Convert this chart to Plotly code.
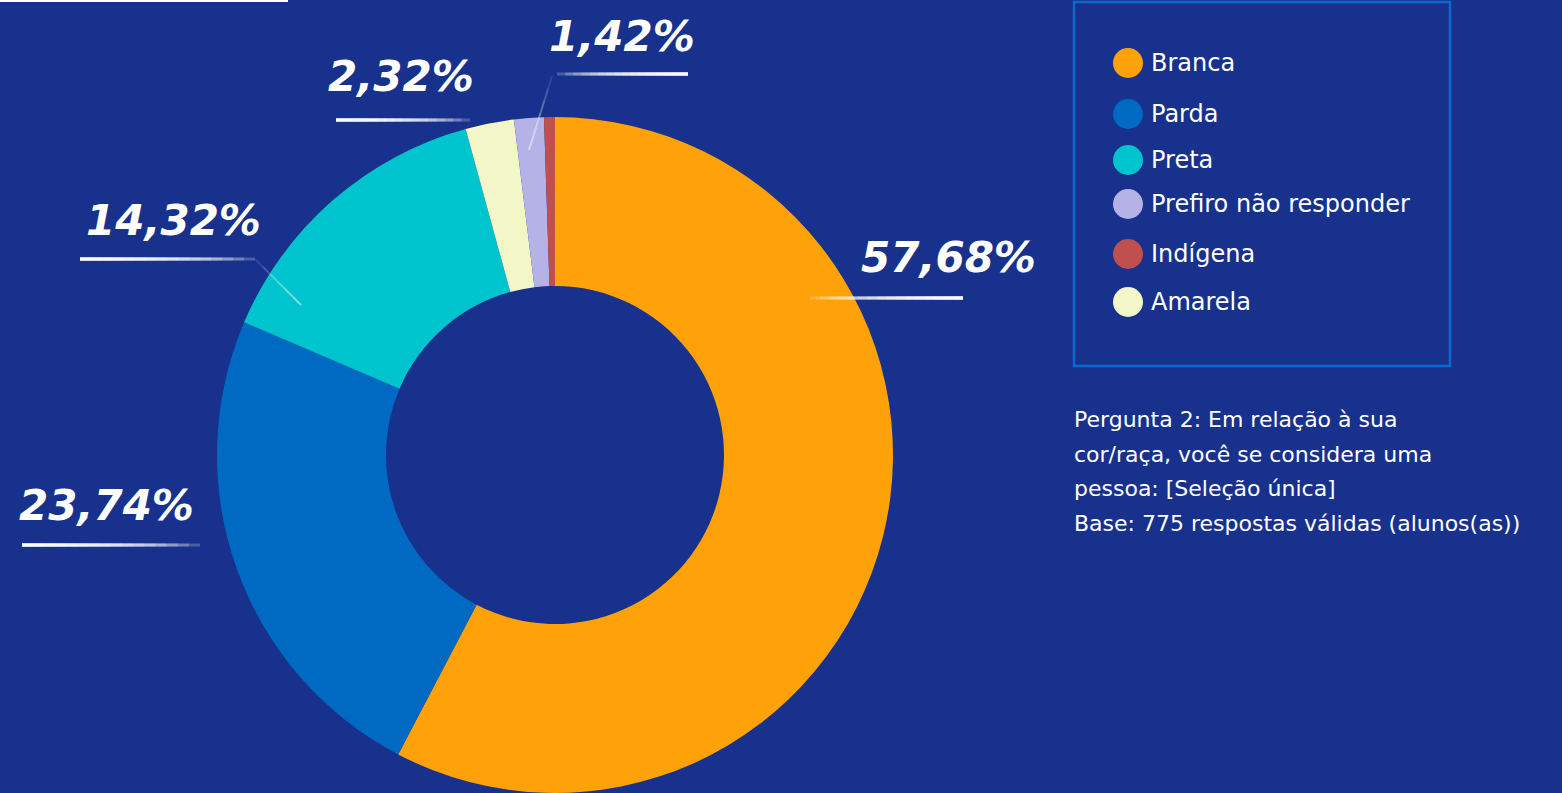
import plotly.graph_objects as go

# data (slice order, clockwise from 12 o'clock)
categories = ["Branca", "Parda", "Preta", "Amarela", "Prefiro não responder", "Indígena"]
values = [57.68, 23.74, 14.32, 2.32, 1.42, 0.52]
colors = ["#FFA20A", "#0069C2", "#00C4CD", "#F3F6C7", "#B4B2E6", "#C0504E"]

legend_order = ["Branca", "Parda", "Preta", "Prefiro não responder", "Indígena", "Amarela"]
labelled = ["Branca", "Parda", "Preta", "Amarela", "Prefiro não responder"]

note_lines = [
    "Pergunta 2: Em relação à sua",
    "cor/raça, você se considera uma",
    "pessoa: [Seleção única]",
    "Base: 775 respostas válidas (alunos(as))",
]

W, H = 1562, 793
BG = "#17318C"
FONT = "DejaVu Sans"


def px(x, y):
    return x / W, 1 - y / H


fig = go.Figure()
fig.add_trace(go.Pie(
    labels=categories, values=values, hole=0.5, sort=False,
    direction="clockwise", rotation=0,
    marker=dict(colors=colors, line=dict(width=0)),
    textinfo="none", hoverinfo="label+percent", showlegend=False,
    domain=dict(x=[217 / W, 893 / W], y=[0, 676 / H]),
))

shapes = []
annotations = []


def fade_line(x0, y0, x1, y1, n=16, alpha=0.22, width=3):
    # stacked strokes all starting at the solid end (x0,y0): gradient towards (x1,y1)
    for k in range(n):
        t = 1 - k / n
        ax, ay = px(x0, y0)
        bx, by = px(x0 + (x1 - x0) * t, y0 + (y1 - y0) * t)
        shapes.append(dict(type="line", xref="paper", yref="paper",
                           x0=ax, y0=ay, x1=bx, y1=by,
                           line=dict(color="white", width=width), opacity=alpha))


# label placement (pixels): text centre, underline solid end, faded end, optional diagonal
label_pos = {
    "Branca": dict(text=(948, 257), line=((963, 298), (810, 298)), diag=None),
    "Parda": dict(text=(106, 505), line=((22, 545), (200, 545)), diag=None),
    "Preta": dict(text=(173, 220), line=((80, 259), (255, 259)), diag=((301, 305), (255, 259))),
    "Amarela": dict(text=(401, 76), line=((336, 120), (470, 120)), diag=None),
    "Prefiro não responder": dict(text=(622, 37), line=((688, 74), (557, 74)), diag=((529, 150), (552, 76))),
}

for name in labelled:
    v = values[categories.index(name)]
    p = label_pos[name]
    tx, ty = px(*p["text"])
    annotations.append(dict(
        x=tx, y=ty, xref="paper", yref="paper", xanchor="center", yanchor="middle",
        text=f"<b><i>{v:.2f}%</i></b>".replace(".", ","), showarrow=False,
        font=dict(family=FONT, size=42, color="white"),
    ))
    (sx, sy), (ex, ey) = p["line"]
    fade_line(sx, sy, ex, ey)
    if p["diag"]:
        (dx0, dy0), (dx1, dy1) = p["diag"]
        fade_line(dx0, dy0, dx1, dy1, n=6, alpha=0.1, width=2)

# legend box
bx0, by0 = px(1074, 2)
bx1, by1 = px(1450, 366)
shapes.append(dict(type="rect", xref="paper", yref="paper", x0=bx0, y0=by1, x1=bx1, y1=by0,
                   line=dict(color="#0A6AD0", width=2.5), fillcolor="rgba(0,0,0,0)"))

legend_y = [63, 114, 160, 204, 254, 302]
for name, yy in zip(legend_order, legend_y):
    c = colors[categories.index(name)]
    cx0, cy0 = px(1113, yy - 15)
    cx1, cy1 = px(1143, yy + 15)
    shapes.append(dict(type="circle", xref="paper", yref="paper",
                       x0=cx0, y0=cy1, x1=cx1, y1=cy0, fillcolor=c, line=dict(width=0)))
    lx, ly = px(1149, yy)
    annotations.append(dict(x=lx, y=ly, xref="paper", yref="paper", xanchor="left",
                            yanchor="middle", text=name, showarrow=False,
                            font=dict(family=FONT, size=24, color="white")))

# note text
for i, line in enumerate(note_lines):
    nx, ny = px(1072, 420 + i * 34.5)
    annotations.append(dict(x=nx, y=ny, xref="paper", yref="paper", xanchor="left",
                            yanchor="middle", text=line, showarrow=False,
                            font=dict(family=FONT, size=22, color="white")))

# top-left rule
shapes.append(dict(type="line", xref="paper", yref="paper", x0=0, y0=1 - 1 / H,
                   x1=288 / W, y1=1 - 1 / H, line=dict(color="white", width=2)))

fig.update_layout(
    width=W, height=H,
    margin=dict(l=0, r=0, t=0, b=0),
    paper_bgcolor=BG, plot_bgcolor=BG,
    shapes=shapes, annotations=annotations,
    showlegend=False,
)

fig.write_html("out.html", config={"displayModeBar": False},
               post_script="document.body.style.margin='0';document.body.style.background='#17318C';")
